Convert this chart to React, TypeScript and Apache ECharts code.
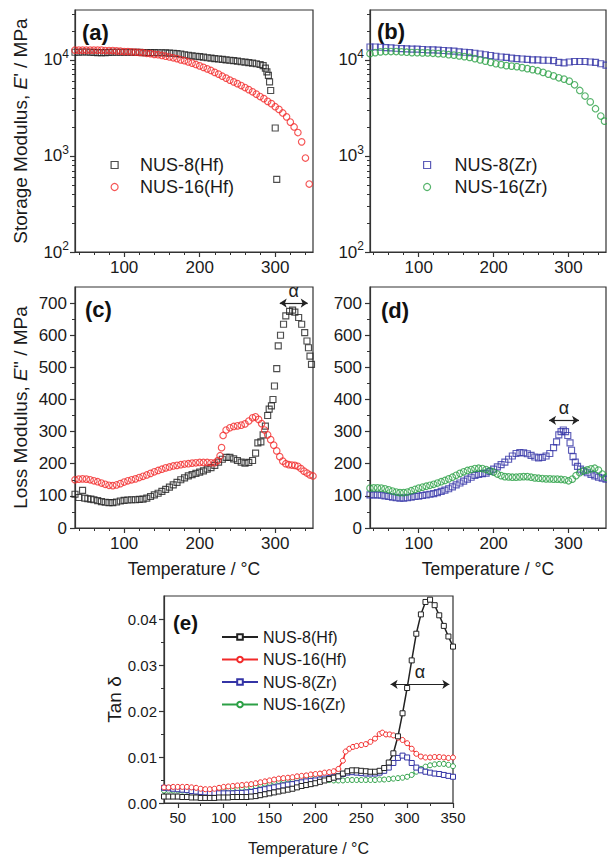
import React, { useEffect, useRef } from 'react';
import * as echarts from 'echarts';

type Pt = [number, number];

// ---------- (a) Storage modulus, Hf ----------
const storageNus8Hf: Pt[] = [
  [35, 12000], [40, 12000], [45, 12050], [50, 12050], [55, 12000], [60, 11950], [65, 11900], [70, 11900],
  [75, 11900], [80, 11950], [85, 12000], [90, 12000], [95, 12000], [100, 12000], [105, 12000], [110, 12000],
  [115, 11950], [120, 11950], [125, 11900], [130, 11900], [135, 11900], [140, 11900], [145, 11850], [150, 11850],
  [155, 11800], [160, 11750], [165, 11700], [170, 11600], [175, 11500], [180, 11300], [185, 11150], [190, 11000],
  [195, 10900], [200, 10800], [205, 10650], [210, 10500], [215, 10400], [220, 10300], [225, 10200], [230, 10100],
  [235, 10000], [240, 9900], [245, 9800], [250, 9700], [255, 9550], [260, 9450], [265, 9350], [270, 9250],
  [275, 9100], [280, 8950], [284, 8700], [287, 8200], [289, 7500], [291, 6900], [292.5, 5900], [294, 4800],
  [300, 1950], [302, 570],
];
const storageNus16Hf: Pt[] = [
  [35, 12600], [40, 12600], [45, 12600], [50, 12600], [55, 12600], [60, 12600], [65, 12600], [70, 12600],
  [75, 12500], [80, 12500], [85, 12500], [90, 12400], [95, 12300], [100, 12200], [105, 12200], [110, 12100],
  [115, 12000], [120, 11950], [125, 11850], [130, 11700], [135, 11600], [140, 11400], [145, 11300], [150, 11100],
  [155, 10900], [160, 10700], [165, 10500], [170, 10300], [175, 10000], [180, 9800], [185, 9500], [190, 9250],
  [195, 8950], [200, 8650], [205, 8350], [210, 8050], [215, 7750], [220, 7400], [225, 7100], [230, 6750],
  [235, 6450], [240, 6150], [245, 5900], [250, 5650], [255, 5400], [260, 5150], [265, 4900], [270, 4650],
  [275, 4400], [280, 4150], [285, 3950], [290, 3700], [295, 3500], [300, 3250], [305, 3050], [310, 2800],
  [315, 2550], [320, 2250], [325, 2000], [330, 1750], [335, 1400], [340, 950], [345, 510],
];

// ---------- (b) Storage modulus, Zr ----------
const storageNus8Zr: Pt[] = [
  [35, 13600], [42, 13600], [49, 13500], [56, 13400], [63, 13300], [70, 13200], [77, 13100], [84, 13000],
  [91, 12900], [98, 12900], [105, 12800], [112, 12700], [119, 12700], [126, 12600], [133, 12500], [140, 12400],
  [147, 12300], [154, 12100], [161, 12000], [168, 11900], [175, 11700], [182, 11500], [189, 11300], [196, 11100],
  [203, 10900], [210, 10700], [217, 10600], [224, 10400], [231, 10300], [238, 10200], [245, 10100], [252, 10000],
  [259, 10000], [266, 9900], [273, 9900], [280, 9800], [287, 9400], [294, 9300], [301, 9500], [308, 9600],
  [315, 9600], [322, 9600], [329, 9500], [336, 9400], [343, 9100], [350, 8800],
];
const storageNus16Zr: Pt[] = [
  [35, 11600], [42, 11900], [49, 12100], [56, 12200], [63, 12200], [70, 12200], [77, 12100], [84, 12000],
  [91, 11900], [98, 11900], [105, 11800], [112, 11800], [119, 11700], [126, 11600], [133, 11500], [140, 11300],
  [147, 11200], [154, 11000], [161, 10800], [168, 10600], [175, 10300], [182, 10000], [189, 9700], [196, 9400],
  [203, 9100], [210, 8900], [217, 8700], [224, 8600], [231, 8500], [238, 8300], [245, 8100], [252, 7900],
  [259, 7700], [266, 7400], [273, 7100], [280, 6800], [287, 6500], [294, 6300], [301, 6000], [308, 5500],
  [315, 4800], [322, 4200], [329, 3650], [336, 3100], [343, 2600], [348, 2300],
];

// ---------- (c) Loss modulus, Hf ----------
const lossNus8Hf: Pt[] = [
  [35, 105], [40, 95], [45, 117], [48, 93], [52, 91], [56, 90], [60, 88], [65, 85], [70, 82], [75, 80],
  [80, 79], [85, 79], [90, 81], [95, 84], [100, 86], [105, 87], [110, 88], [115, 88], [120, 89], [125, 90],
  [130, 93], [135, 98], [140, 103], [145, 108], [150, 114], [155, 120], [160, 127], [165, 134], [170, 142],
  [175, 150], [180, 156], [185, 162], [190, 166], [195, 170], [200, 174], [205, 178], [210, 183], [215, 188],
  [220, 195], [225, 205], [230, 214], [235, 220], [240, 220], [245, 215], [250, 210], [255, 205], [260, 202],
  [265, 204], [270, 210], [274, 233], [277, 265], [281, 268], [284, 290], [287, 317], [290, 350], [292, 370],
  [295, 380], [297, 400], [299, 442], [302, 496], [304, 567], [307, 600], [311, 634], [314, 660], [319, 674],
  [323, 678], [326, 672], [331, 655], [335, 634], [339, 608], [342, 582], [344, 561], [346, 535], [348, 509],
];
const lossNus16Hf: Pt[] = [
  [35, 150], [40, 152], [45, 153], [50, 152], [55, 150], [60, 147], [65, 144], [70, 140], [75, 136], [80, 133],
  [85, 132], [90, 134], [95, 138], [100, 143], [105, 147], [110, 150], [115, 153], [120, 157], [125, 161],
  [130, 165], [135, 170], [140, 175], [145, 179], [150, 183], [155, 187], [160, 190], [165, 193], [170, 195],
  [175, 197], [180, 199], [185, 200], [190, 202], [195, 203], [200, 204], [205, 204], [210, 204], [215, 203],
  [220, 203], [224, 210], [227, 225], [229, 250], [231, 288], [235, 305], [240, 312], [245, 316], [250, 318],
  [255, 320], [260, 324], [265, 333], [270, 343], [274, 346], [278, 338], [282, 325], [286, 305], [290, 290],
  [294, 275], [298, 258], [302, 240], [306, 222], [310, 208], [314, 200], [318, 197], [322, 196], [326, 195],
  [330, 192], [334, 185], [338, 177], [342, 171], [346, 165], [350, 162],
];

// ---------- (d) Loss modulus, Zr ----------
const lossNus8Zr: Pt[] = [
  [35, 103], [40, 103], [45, 103], [50, 102], [55, 100], [60, 98], [65, 96], [70, 94], [75, 93], [80, 93],
  [85, 94], [90, 96], [95, 98], [100, 99], [105, 101], [110, 103], [115, 105], [120, 107], [125, 110], [130, 114],
  [135, 118], [140, 122], [145, 128], [150, 134], [155, 140], [160, 146], [165, 152], [170, 158], [175, 164],
  [180, 167], [185, 169], [190, 171], [195, 176], [200, 183], [205, 190], [210, 197], [215, 205], [220, 214],
  [225, 224], [230, 232], [235, 235], [240, 234], [245, 231], [250, 226], [255, 221], [260, 218], [265, 220],
  [270, 224], [275, 232], [280, 250], [284, 268], [287, 290], [290, 300], [293, 305], [296, 300], [299, 288],
  [302, 265], [304, 242], [306, 222], [309, 205], [312, 192], [316, 183], [320, 177], [325, 172], [330, 167],
  [335, 162], [340, 158], [345, 155], [350, 152],
];
const lossNus16Zr: Pt[] = [
  [35, 124], [40, 125], [45, 125], [50, 124], [55, 122], [60, 119], [65, 115], [70, 112], [75, 110], [80, 110],
  [85, 112], [90, 116], [95, 120], [100, 124], [105, 127], [110, 130], [115, 133], [120, 136], [125, 140],
  [130, 144], [135, 148], [140, 153], [145, 158], [150, 164], [155, 170], [160, 175], [165, 179], [170, 182],
  [175, 185], [180, 186], [185, 185], [190, 182], [195, 178], [200, 174], [205, 168], [210, 163], [215, 160],
  [220, 159], [225, 158], [230, 158], [235, 159], [240, 160], [245, 160], [250, 158], [255, 156], [260, 155],
  [265, 154], [270, 153], [275, 153], [280, 152], [285, 152], [290, 151], [295, 150], [300, 147], [305, 152],
  [310, 163], [315, 172], [320, 178], [325, 181], [330, 184], [335, 186], [340, 180], [345, 168], [350, 158],
];

// ---------- (e) Tan delta ----------
const tanNus8Hf: Pt[] = [
  [35, 0.0014], [40, 0.0014], [45, 0.0014], [50, 0.0014], [55, 0.0013], [60, 0.0013], [65, 0.0012], [70, 0.0012],
  [75, 0.0011], [80, 0.0011], [85, 0.0011], [90, 0.0011], [95, 0.0012], [100, 0.0012], [105, 0.0012], [110, 0.0013],
  [115, 0.0013], [120, 0.0013], [125, 0.0013], [130, 0.0014], [135, 0.0015], [140, 0.0017], [145, 0.0019],
  [150, 0.0021], [155, 0.0023], [160, 0.0025], [165, 0.0027], [170, 0.0029], [175, 0.0031], [180, 0.0034],
  [185, 0.0037], [190, 0.0039], [195, 0.0041], [200, 0.0043], [205, 0.0046], [210, 0.0049], [215, 0.0052],
  [220, 0.0055], [225, 0.0058], [230, 0.0064], [235, 0.0069], [240, 0.0071], [245, 0.0071], [250, 0.007],
  [255, 0.0069], [260, 0.0068], [265, 0.0068], [270, 0.007], [275, 0.0076], [280, 0.0088], [285, 0.0108],
  [290, 0.0145], [295, 0.0195], [300, 0.025], [305, 0.031], [310, 0.0368], [315, 0.041], [320, 0.0437],
  [325, 0.0442], [330, 0.043], [335, 0.0408], [340, 0.0385], [345, 0.0362], [350, 0.034],
];
const tanNus16Hf: Pt[] = [
  [35, 0.0034], [40, 0.0034], [45, 0.0035], [50, 0.0035], [55, 0.0035], [60, 0.0035], [65, 0.0034], [70, 0.0033],
  [75, 0.0031], [80, 0.003], [85, 0.003], [90, 0.0031], [95, 0.0033], [100, 0.0035], [105, 0.0036], [110, 0.0037],
  [115, 0.0038], [120, 0.0039], [125, 0.004], [130, 0.0041], [135, 0.0043], [140, 0.0045], [145, 0.0047],
  [150, 0.0049], [155, 0.0051], [160, 0.0053], [165, 0.0054], [170, 0.0055], [175, 0.0056], [180, 0.0058],
  [185, 0.0059], [190, 0.006], [195, 0.0062], [200, 0.0063], [205, 0.0064], [210, 0.0066], [215, 0.0067],
  [220, 0.0069], [225, 0.0074], [230, 0.0092], [233, 0.0112], [237, 0.0118], [241, 0.0122], [245, 0.0124],
  [250, 0.0126], [255, 0.0128], [260, 0.0133], [265, 0.014], [270, 0.015], [273, 0.0153], [277, 0.0149],
  [281, 0.0149], [285, 0.0147], [290, 0.0142], [295, 0.0137], [300, 0.013], [305, 0.0118], [310, 0.0107],
  [315, 0.0101], [320, 0.0099], [325, 0.0099], [330, 0.01], [335, 0.01], [340, 0.0099], [345, 0.0098], [350, 0.0099],
];
const tanNus8Zr: Pt[] = [
  [35, 0.0033], [40, 0.0032], [45, 0.0031], [50, 0.003], [55, 0.0029], [60, 0.0028], [65, 0.0026], [70, 0.0025],
  [75, 0.0024], [80, 0.0023], [85, 0.0022], [90, 0.0022], [95, 0.0021], [100, 0.0021], [105, 0.0021], [110, 0.0021],
  [115, 0.0022], [120, 0.0022], [125, 0.0023], [130, 0.0024], [135, 0.0026], [140, 0.0028], [145, 0.003],
  [150, 0.0032], [155, 0.0034], [160, 0.0036], [165, 0.0038], [170, 0.004], [175, 0.0041], [180, 0.0043],
  [185, 0.0045], [190, 0.0047], [195, 0.0048], [200, 0.0049], [205, 0.0051], [210, 0.0053], [215, 0.0054],
  [220, 0.0056], [225, 0.0058], [230, 0.0063], [235, 0.0066], [240, 0.0067], [245, 0.0066], [250, 0.0065],
  [255, 0.0064], [260, 0.0064], [265, 0.0064], [270, 0.0066], [275, 0.007], [280, 0.0077], [285, 0.0087],
  [290, 0.0098], [295, 0.0103], [300, 0.0099], [305, 0.0087], [310, 0.0077], [315, 0.0071], [320, 0.0068],
  [325, 0.0066], [330, 0.0064], [335, 0.0063], [340, 0.0061], [345, 0.0059], [350, 0.0057],
];
const tanNus16Zr: Pt[] = [
  [35, 0.0027], [40, 0.0027], [45, 0.0027], [50, 0.0027], [55, 0.0027], [60, 0.0027], [65, 0.0026], [70, 0.0025],
  [75, 0.0024], [80, 0.0024], [85, 0.0025], [90, 0.0026], [95, 0.0028], [100, 0.003], [105, 0.0031], [110, 0.0032],
  [115, 0.0032], [120, 0.0033], [125, 0.0034], [130, 0.0035], [135, 0.0037], [140, 0.004], [145, 0.0042],
  [150, 0.0044], [155, 0.0046], [160, 0.0048], [165, 0.005], [170, 0.0051], [175, 0.0052], [180, 0.0053],
  [185, 0.0053], [190, 0.0054], [195, 0.0054], [200, 0.0053], [205, 0.0052], [210, 0.0051], [215, 0.005],
  [220, 0.0049], [225, 0.0049], [230, 0.0049], [235, 0.005], [240, 0.005], [245, 0.005], [250, 0.005],
  [255, 0.005], [260, 0.005], [265, 0.005], [270, 0.0051], [275, 0.0051], [280, 0.0052], [285, 0.0053],
  [290, 0.0054], [295, 0.0055], [300, 0.0057], [305, 0.0061], [310, 0.0068], [315, 0.0074], [320, 0.0079],
  [325, 0.0082], [330, 0.0084], [335, 0.0085], [340, 0.0085], [345, 0.0083], [350, 0.008],
];

// ---------- α arrows ----------
const alphaC: Pt[] = [[306, 700], [343, 700]];
const alphaD: Pt[] = [[274, 335], [314, 335]];
const alphaE: Pt[] = [[282, 0.0258], [346, 0.0258]];

// ---------- tick values ----------
const tempMajor = [100, 200, 300];
const tempMinor = [40, 60, 80, 120, 140, 160, 180, 220, 240, 260, 280, 320, 340];
const logMajor = [100, 1000, 10000];
const logMinor = [200, 300, 400, 500, 600, 700, 800, 900, 2000, 3000, 4000, 5000, 6000, 7000, 8000, 9000, 20000, 30000];
const lossMajor = [0, 100, 200, 300, 400, 500, 600, 700];
const lossMinor = [50, 150, 250, 350, 450, 550, 650];
const eTempMajor = [50, 100, 150, 200, 250, 300, 350];
const eTempMinor = [75, 125, 175, 225, 275, 325];
const tanMajor = [0, 0.01, 0.02, 0.03, 0.04];
const tanMinor = [0.005, 0.015, 0.025, 0.035];

const FONT = "Arial, 'Liberation Sans', sans-serif";
const AX = '#333';
const TXT = '#1a1a1a';
const BLACK = '#222222';
const RED = '#f22a2a';
const BLUE = '#3434a6';
const GREEN = '#2ca046';

function axisPair(o: any) {
  const position = o.dim === 'x' ? 'bottom' : 'left';
  const base: any = {
    type: o.type || 'value', gridIndex: o.grid, position, min: o.min, max: o.max,
    splitLine: { show: false }, minorTick: { show: false }, minorSplitLine: { show: false },
  };
  if (o.type === 'log') base.logBase = 10;
  const major = {
    ...base,
    name: o.name || '', nameLocation: 'middle', nameGap: o.nameGap || 0,
    nameTextStyle: { fontFamily: FONT, fontSize: o.nameSize || 16, color: TXT, rich: o.nameRich },
    axisLine: { show: true, onZero: false, lineStyle: { color: AX, width: 1.2 } },
    axisTick: { show: true, inside: false, length: 5, customValues: o.major, lineStyle: { color: AX, width: 1.2 } },
    axisLabel: {
      show: true, customValues: o.major, margin: o.margin, fontFamily: FONT, fontSize: o.labelSize,
      color: TXT, formatter: o.fmt, rich: o.rich,
    },
  };
  const minor = {
    ...base,
    axisLine: { show: false, onZero: false },
    axisTick: { show: true, inside: false, length: 3, customValues: o.minor, lineStyle: { color: AX, width: 1 } },
    axisLabel: { show: false },
  };
  return [major, minor];
}

function scatter(name: string, data: Pt[], symbol: string, color: string, xi: number, extra: any = {}) {
  return {
    type: 'scatter', name, data, symbol, symbolSize: symbol === 'rect' ? 6 : 6.5,
    xAxisIndex: xi, yAxisIndex: xi, silent: true,
    itemStyle: { color: 'rgba(255,255,255,0)', borderColor: color, borderWidth: 1.15 },
    ...extra,
  };
}

function alphaMark(pts: Pt[]) {
  return {
    markLine: {
      silent: true, animation: false, symbol: ['arrow', 'arrow'], symbolSize: 7,
      lineStyle: { color: '#222', width: 1.2, type: 'solid' },
      label: { show: true, position: 'middle', formatter: 'α', fontFamily: FONT, fontSize: 18, color: '#222', distance: 3 },
      data: [[{ coord: pts[0] }, { coord: pts[1] }]],
    },
  };
}

const logFmt = (v: number) => `10{sup|${Math.round(Math.log10(v))}}`;
const logRich = { sup: { fontFamily: FONT, fontSize: 12, color: TXT, padding: [0, 0, 12, 0] } };
const nameRich = (size: number) => ({ i: { fontFamily: FONT, fontSize: size, fontStyle: 'italic', color: TXT } });

function panelLabel(text: string, left: number, top: number, size: number) {
  return { type: 'text', left, top, style: { text, font: `bold ${size}px ${FONT}`, fill: '#111' } };
}

function buildTop(): any {
  const ax: any[][] = [
    axisPair({ dim: 'x', grid: 0, min: 35, max: 350, major: tempMajor, minor: tempMinor, labelSize: 17, margin: 7 }),
    axisPair({ dim: 'x', grid: 1, min: 35, max: 350, major: tempMajor, minor: tempMinor, labelSize: 17, margin: 7 }),
    axisPair({ dim: 'x', grid: 2, min: 35, max: 350, major: tempMajor, minor: tempMinor, labelSize: 17, margin: 7, name: 'Temperature / °C', nameGap: 32, nameSize: 17.5 }),
    axisPair({ dim: 'x', grid: 3, min: 35, max: 350, major: tempMajor, minor: tempMinor, labelSize: 17, margin: 7, name: 'Temperature / °C', nameGap: 32, nameSize: 17.5 }),
  ];
  const ay: any[][] = [
    axisPair({ dim: 'y', grid: 0, type: 'log', min: 100, max: 33000, major: logMajor, minor: logMinor, labelSize: 17, margin: 6, fmt: logFmt, rich: logRich, name: "Storage Modulus, {i|E}' / MPa", nameGap: 45, nameSize: 19, nameRich: nameRich(19) }),
    axisPair({ dim: 'y', grid: 1, type: 'log', min: 100, max: 33000, major: logMajor, minor: logMinor, labelSize: 17, margin: 6, fmt: logFmt, rich: logRich }),
    axisPair({ dim: 'y', grid: 2, min: 0, max: 750, major: lossMajor, minor: lossMinor, labelSize: 17, margin: 8, name: "Loss Modulus, {i|E}'' / MPa", nameGap: 45, nameSize: 19, nameRich: nameRich(19) }),
    axisPair({ dim: 'y', grid: 3, min: 0, max: 750, major: lossMajor, minor: lossMinor, labelSize: 17, margin: 8 }),
  ];
  const gridBase = { show: true, borderColor: AX, borderWidth: 1.2, backgroundColor: 'transparent' };
  const legendBase = {
    orient: 'vertical', itemWidth: 7, itemHeight: 7, itemGap: 4, selectedMode: false, padding: 0,
    itemStyle: { borderWidth: 1.2 },
  };
  return {
    animation: false,
    backgroundColor: 'transparent',
    grid: [
      { ...gridBase, left: 75, top: 10, width: 238, height: 242 },
      { ...gridBase, left: 370, top: 10, width: 236, height: 242 },
      { ...gridBase, left: 75, top: 287, width: 238, height: 241 },
      { ...gridBase, left: 370, top: 287, width: 236, height: 241 },
    ],
    xAxis: ax.flat(),
    yAxis: ay.flat(),
    legend: [
      { ...legendBase, left: 110.5, top: 156, data: ['NUS-8(Hf)', 'NUS-16(Hf)'],
        textStyle: { fontFamily: FONT, fontSize: 18, color: TXT, padding: [0, 0, 0, 17] } },
      { ...legendBase, left: 423, top: 156, data: ['NUS-8(Zr)', 'NUS-16(Zr)'],
        textStyle: { fontFamily: FONT, fontSize: 18, color: TXT, padding: [0, 0, 0, 19] } },
    ],
    graphic: [
      panelLabel('(a)', 82, 21, 22),
      panelLabel('(b)', 377, 20, 22),
      panelLabel('(c)', 85, 298, 22),
      panelLabel('(d)', 381, 299, 22),
    ],
    series: [
      scatter('NUS-8(Hf)', storageNus8Hf, 'rect', BLACK, 0),
      scatter('NUS-16(Hf)', storageNus16Hf, 'circle', RED, 0),
      scatter('NUS-8(Zr)', storageNus8Zr, 'rect', BLUE, 2),
      scatter('NUS-16(Zr)', storageNus16Zr, 'circle', GREEN, 2),
      scatter('NUS-8(Hf)', lossNus8Hf, 'rect', BLACK, 4, alphaMark(alphaC)),
      scatter('NUS-16(Hf)', lossNus16Hf, 'circle', RED, 4),
      scatter('NUS-8(Zr)', lossNus8Zr, 'rect', BLUE, 6, alphaMark(alphaD)),
      scatter('NUS-16(Zr)', lossNus16Zr, 'circle', GREEN, 6),
    ],
  };
}

function lineSeries(name: string, data: Pt[], symbol: string, color: string, extra: any = {}) {
  return {
    type: 'line', name, data, symbol, symbolSize: 5, showAllSymbol: true, silent: true,
    xAxisIndex: 0, yAxisIndex: 0,
    lineStyle: { color, width: 1.5 },
    itemStyle: { color: '#ffffff', borderColor: color, borderWidth: 1 },
    emphasis: { disabled: true },
    ...extra,
  };
}

function buildBottom(): any {
  const ax = axisPair({ dim: 'x', grid: 0, min: 35, max: 350, major: eTempMajor, minor: eTempMinor, labelSize: 15, margin: 7, name: 'Temperature / °C', nameGap: 37, nameSize: 16 });
  const ay = axisPair({ dim: 'y', grid: 0, min: 0, max: 0.045, major: tanMajor, minor: tanMinor, labelSize: 15, margin: 7, fmt: (v: number) => v.toFixed(2), name: 'Tan δ', nameGap: 40, nameSize: 19 });
  return {
    animation: false,
    backgroundColor: 'transparent',
    grid: [{ show: true, borderColor: AX, borderWidth: 1.2, backgroundColor: 'transparent', left: 164, top: 596, width: 289, height: 207 }],
    xAxis: ax,
    yAxis: ay,
    legend: {
      orient: 'vertical', left: 221, top: 629, itemWidth: 36, itemHeight: 7, itemGap: 6.5, selectedMode: false, padding: 0,
      data: ['NUS-8(Hf)', 'NUS-16(Hf)', 'NUS-8(Zr)', 'NUS-16(Zr)'],
      textStyle: { fontFamily: FONT, fontSize: 16, color: TXT },
    },
    graphic: [panelLabel('(e)', 173, 612, 20.5)],
    series: [
      lineSeries('NUS-16(Zr)', tanNus16Zr, 'circle', GREEN),
      lineSeries('NUS-8(Zr)', tanNus8Zr, 'rect', BLUE),
      lineSeries('NUS-16(Hf)', tanNus16Hf, 'circle', RED),
      lineSeries('NUS-8(Hf)', tanNus8Hf, 'rect', BLACK, alphaMark(alphaE)),
    ],
  };
}

export default function App() {
  const topRef = useRef<HTMLDivElement>(null);
  const botRef = useRef<HTMLDivElement>(null);
  useEffect(() => {
    const c1 = echarts.init(topRef.current as HTMLDivElement, undefined, { renderer: 'svg' });
    const c2 = echarts.init(botRef.current as HTMLDivElement, undefined, { renderer: 'svg' });
    c1.setOption(buildTop());
    c2.setOption(buildBottom());
    return () => {
      c1.dispose();
      c2.dispose();
    };
  }, []);
  const full: React.CSSProperties = { position: 'absolute', left: 0, top: 0, width: 607, height: 860 };
  return (
    <div style={{ ...full, background: '#ffffff' }}>
      <div ref={topRef} style={full} />
      <div ref={botRef} style={full} />
    </div>
  );
}
